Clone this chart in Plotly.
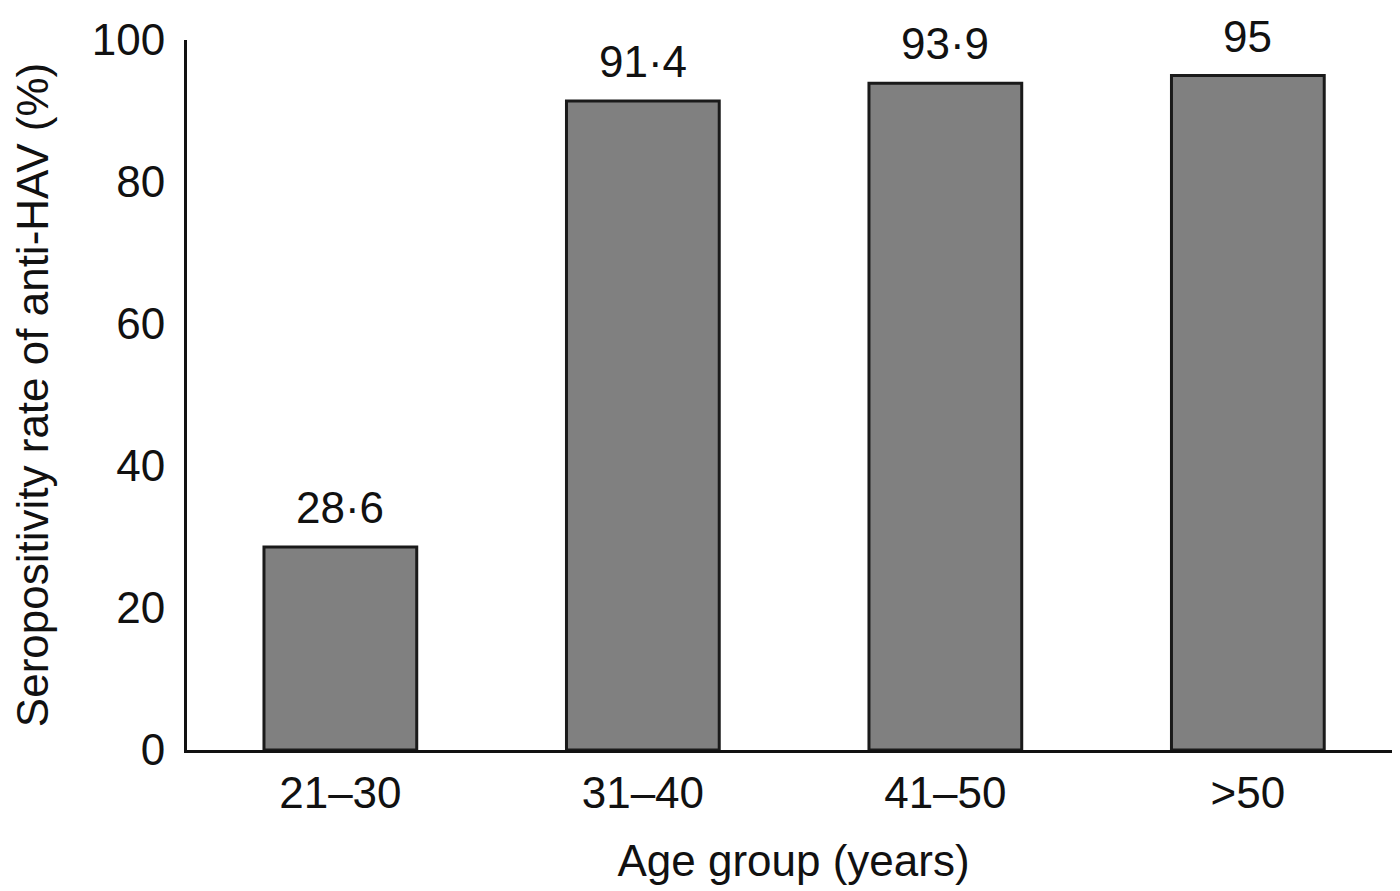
import plotly.graph_objects as go

categories = ["21–30", "31–40", "41–50", ">50"]
values = [28.6, 91.4, 93.9, 95]
value_labels = ["28·6", "91·4", "93·9", "95"]
y_ticks = [0, 20, 40, 60, 80, 100]

FONT = "Liberation Sans, Arial, Helvetica, sans-serif"
xs = list(range(len(categories)))

fig = go.Figure(
    go.Bar(
        x=xs,
        y=values,
        width=0.505,
        marker=dict(color="#808080", line=dict(color="#1a1a1a", width=3)),
    )
)

for xi, v, lab in zip(xs, values, value_labels):
    fig.add_annotation(
        x=xi, y=v, text=lab, showarrow=False, yanchor="bottom",
        yshift=13, font=dict(size=44, color="#111111", family=FONT),
    )

# page body has an 8px default margin, so the figure is sized to fit the window
fig.update_layout(
    width=1392,
    height=883,
    margin=dict(l=179, r=0, t=32, b=141),
    plot_bgcolor="white",
    paper_bgcolor="white",
    font=dict(family=FONT, size=44, color="#111111"),
    showlegend=False,
)

fig.update_xaxes(
    tickmode="array",
    tickvals=xs,
    ticktext=categories,
    range=[-0.507, 3.503],
    showline=True,
    linecolor="#111111",
    linewidth=3,
    showgrid=False,
    zeroline=False,
    ticks="",
    automargin=False,
    ticklabelstandoff=2,
    title=dict(text="Age group (years)", standoff=30, font=dict(size=44)),
)

fig.update_yaxes(
    tickmode="array",
    tickvals=y_ticks,
    range=[0, 100],
    showline=True,
    linecolor="#111111",
    linewidth=3,
    showgrid=False,
    zeroline=False,
    ticks="",
    automargin=False,
    ticklabelstandoff=10,
    title=dict(text="Seropositivity rate of anti-HAV (%)", standoff=51, font=dict(size=44)),
)

fig.write_html("out.html")
